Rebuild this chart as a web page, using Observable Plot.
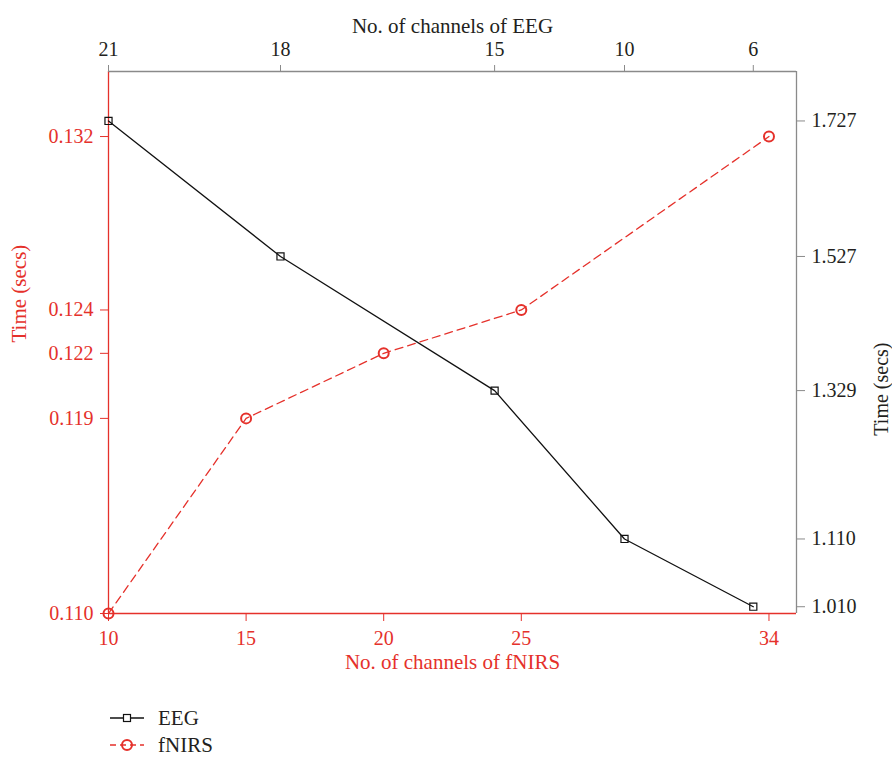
<!DOCTYPE html>
<html>
<head>
<meta charset="utf-8">
<script src="https://cdn.jsdelivr.net/npm/d3@7"></script>
<script src="https://cdn.jsdelivr.net/npm/@observablehq/plot@0.6"></script>
<style>
  body { margin: 0; background: #fff; }
  #wrap { width: 892px; font-family: "Liberation Serif", serif; }
</style>
</head>
<body>
<div id="wrap"></div>
<script>
// ---- data ----
const fnirsChannels = [10, 15, 20, 25, 34];
const fnirsTime = [0.110, 0.119, 0.122, 0.124, 0.132];
const eegChannels = [21, 18, 15, 10, 6];
// where each EEG channel count sits along the shared horizontal axis (fNIRS units)
const eegPos = [10, 16.25, 24.03, 28.75, 33.43];
const eegTime = [1.727, 1.527, 1.329, 1.110, 1.010];
const leftTicks = [0.110, 0.119, 0.122, 0.124, 0.132];
const rightTicks = [1.010, 1.110, 1.329, 1.527, 1.727];
const bottomTicks = [10, 15, 20, 25, 34];

const leftDomain = [0.110, 0.135];
const rightDomain = [1.0, 1.8];
const xDomain = [10, 35];

const RED = "#e5312b";
const GRAY = "#8a8a8a";
const INK = "#231f20";
const FONT = "Liberation Serif";
const FS = 20;

const toLeft = v => leftDomain[0] + (v - rightDomain[0]) / (rightDomain[1] - rightDomain[0]) * (leftDomain[1] - leftDomain[0]);

const fnirs = fnirsChannels.map((c, i) => ({x: c, y: fnirsTime[i]}));
const eeg = eegChannels.map((c, i) => ({x: eegPos[i], y: toLeft(eegTime[i]), ch: c}));
const rightTickPos = rightTicks.map(toLeft);

const chart = Plot.plot({
  width: 892,
  height: 690,
  marginLeft: 108,
  marginRight: 96,
  marginTop: 71,
  marginBottom: 77,
  style: {fontFamily: FONT, fontSize: FS + "px", background: "#fff"},
  x: {domain: xDomain},
  y: {domain: leftDomain},
  marks: [
    // frame lines
    Plot.ruleY([leftDomain[1]], {stroke: GRAY, strokeWidth: 1.3}),
    Plot.ruleX([xDomain[1]], {stroke: GRAY, strokeWidth: 1.3}),
    Plot.ruleX([xDomain[0]], {stroke: RED, strokeWidth: 1.3}),
    Plot.ruleY([leftDomain[0]], {stroke: RED, strokeWidth: 1.3}),
    // left axis
    Plot.axisY(leftTicks, {anchor: "left", tickSize: 8, tickPadding: 7, stroke: RED, fill: RED,
      tickFormat: d3.format(".3f"), label: null, fontSize: FS}),
    // right axis
    Plot.axisY(rightTickPos, {anchor: "right", tickSize: 8, tickPadding: 7, stroke: GRAY, fill: INK,
      tickFormat: d => d3.format(".3f")(rightTicks[rightTickPos.indexOf(d)]), label: null, fontSize: FS}),
    // bottom axis
    Plot.axisX(bottomTicks, {anchor: "bottom", tickSize: 8, tickPadding: 9, stroke: RED, fill: RED,
      tickFormat: d => String(d), label: null, fontSize: FS}),
    // top axis
    Plot.axisX(eegPos, {anchor: "top", tickSize: 7, tickPadding: 9, stroke: GRAY, fill: INK,
      tickFormat: d => String(eegChannels[eegPos.indexOf(d)]), label: null, fontSize: FS}),
    // axis titles
    Plot.text(["No. of channels of EEG"], {frameAnchor: "top", dy: -53, fill: INK, fontSize: FS + 1}),
    Plot.text(["No. of channels of fNIRS"], {frameAnchor: "bottom", dy: 55, fill: RED, fontSize: FS + 1}),
    Plot.text(["Time (secs)"], {frameAnchor: "left", dx: -89, rotate: -90, fill: RED, fontSize: FS + 1}),
    Plot.text(["Time (secs)"], {frameAnchor: "right", dx: 85, rotate: -90, fill: INK, fontSize: FS}),
    // series
    Plot.line(eeg, {x: "x", y: "y", stroke: "#111", strokeWidth: 1.3}),
    Plot.dot(eeg, {x: "x", y: "y", symbol: "square", r: 4, stroke: "#111", strokeWidth: 1.2, fill: "none"}),
    Plot.line(fnirs, {x: "x", y: "y", stroke: RED, strokeWidth: 1.3, strokeDasharray: "8,5"}),
    Plot.dot(fnirs, {x: "x", y: "y", r: 5, stroke: RED, strokeWidth: 2, fill: "none"})
  ]
});

const wrap = document.getElementById("wrap");
wrap.appendChild(chart);

// legend below the chart
const legendItems = [
  {name: "EEG", color: "#111", dash: null, symbol: "square"},
  {name: "fNIRS", color: RED, dash: "6,4", symbol: "circle"}
];
const lg = d3.create("svg").attr("width", 892).attr("height", 69)
  .style("display", "block").style("font-family", FONT).style("font-size", (FS + 1) + "px");
legendItems.forEach((it, i) => {
  const y = 28 + i * 27;
  const g = lg.append("g");
  g.append("line").attr("x1", 110).attr("x2", 144).attr("y1", y).attr("y2", y)
    .attr("stroke", it.color).attr("stroke-width", 1.3)
    .attr("stroke-dasharray", it.dash);
  if (it.symbol === "square") {
    g.append("rect").attr("x", 123.5).attr("y", y - 3.5).attr("width", 7).attr("height", 7)
      .attr("fill", "#fff").attr("stroke", it.color).attr("stroke-width", 1.2);
  } else {
    g.append("circle").attr("cx", 127).attr("cy", y).attr("r", 5)
      .attr("fill", "none").attr("stroke", it.color).attr("stroke-width", 2);
  }
  g.append("text").attr("x", 158).attr("y", y).attr("dy", "0.35em").attr("fill", INK).text(it.name);
});
wrap.appendChild(lg.node());
</script>
</body>
</html>
